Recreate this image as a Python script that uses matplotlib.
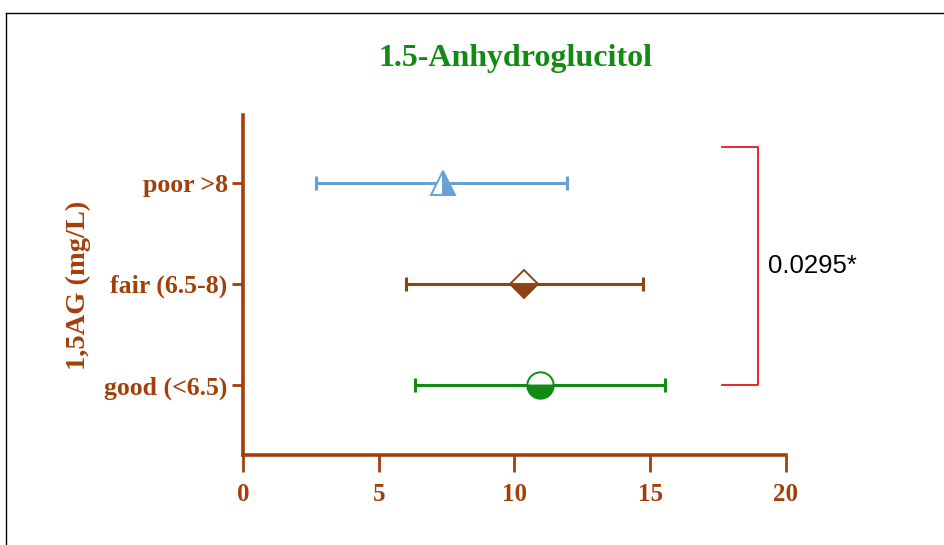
import matplotlib
matplotlib.use("Agg")
import matplotlib.pyplot as plt
from matplotlib.lines import Line2D

# data
groups = ["good (<6.5)", "fair (6.5-8)", "poor >8"]
means = [10.95, 10.35, 7.35]
lower = [6.35, 6.0, 2.7]
upper = [15.55, 14.75, 11.95]
colors = ["#138a13", "#8e4412", "#6a9fd4"]
markers = ["o", "D", "^"]
fills = ["bottom", "bottom", "right"]
p_text = "0.0295*"

axis_col = "#a2400c"

fig = plt.figure(figsize=(9.45, 5.45), dpi=100)
ax = fig.add_axes([0.2571, 0.1651, 0.5746, 0.6239])

for i, (m, lo, hi, c, mk, fs) in enumerate(zip(means, lower, upper, colors, markers, fills)):
    ax.errorbar(m, i, xerr=[[m - lo], [hi - m]], fmt="none", ecolor=c,
                elinewidth=2.2, capsize=5, capthick=2.2, zorder=2)
    ms = {"o": 19, "D": 14, "^": 17}[mk]
    ax.plot(m, i, marker=mk, markersize=ms, fillstyle=fs, color=c,
            markerfacecoloralt="white", markeredgecolor=c, markeredgewidth=1.4,
            linestyle="none", zorder=3)

# significance bracket between good and poor
bx0, bx1 = 17.65, 18.97
ax.plot([bx0, bx1, bx1, bx0], [0, 0, 2.35, 2.35], color="#e8141c", lw=1.3,
        clip_on=False)
ax.text(19.33, 1.18, p_text, fontsize=18.5, family="Liberation Sans",
        ha="left", va="center", color="black")

ax.set_xlim(0, 20)
ax.set_ylim(-0.69, 2.67)
ax.set_xticks([0, 5, 10, 15, 20])
ax.set_yticks([0, 1, 2])
ax.set_yticklabels(groups)

for s in ["top", "right"]:
    ax.spines[s].set_visible(False)
for s in ["left", "bottom"]:
    ax.spines[s].set_color(axis_col)
    ax.spines[s].set_linewidth(2.6)

ax.tick_params(axis="x", colors=axis_col, width=2, length=12, pad=8)
ax.tick_params(axis="y", colors=axis_col, width=2, length=8, pad=3)
for lab in ax.get_xticklabels():
    lab.set_family("Liberation Serif")
    lab.set_fontweight("bold")
    lab.set_fontsize(18)
    lab.set_color(axis_col)
for lab in ax.get_yticklabels():
    lab.set_family("Liberation Serif")
    lab.set_fontweight("bold")
    lab.set_fontsize(18.5)
    lab.set_color(axis_col)

ax.set_ylabel("1,5AG (mg/L)", family="Liberation Serif", fontweight="bold",
              fontsize=20.5, color=axis_col)
ax.yaxis.set_label_coords(-0.279, 0.5)

fig.text(0.546, 0.893, "1.5-Anhydroglucitol", family="Liberation Serif",
         fontweight="bold", fontsize=23, color="#138a13", ha="center", va="center")

# page frame around the figure
fig.add_artist(Line2D([6 / 945, 1], [1 - 13 / 545, 1 - 13 / 545], color="black", lw=1))
fig.add_artist(Line2D([6 / 945, 6 / 945], [0, 1 - 13 / 545], color="black", lw=1))

fig.savefig("out.png", dpi=100)
